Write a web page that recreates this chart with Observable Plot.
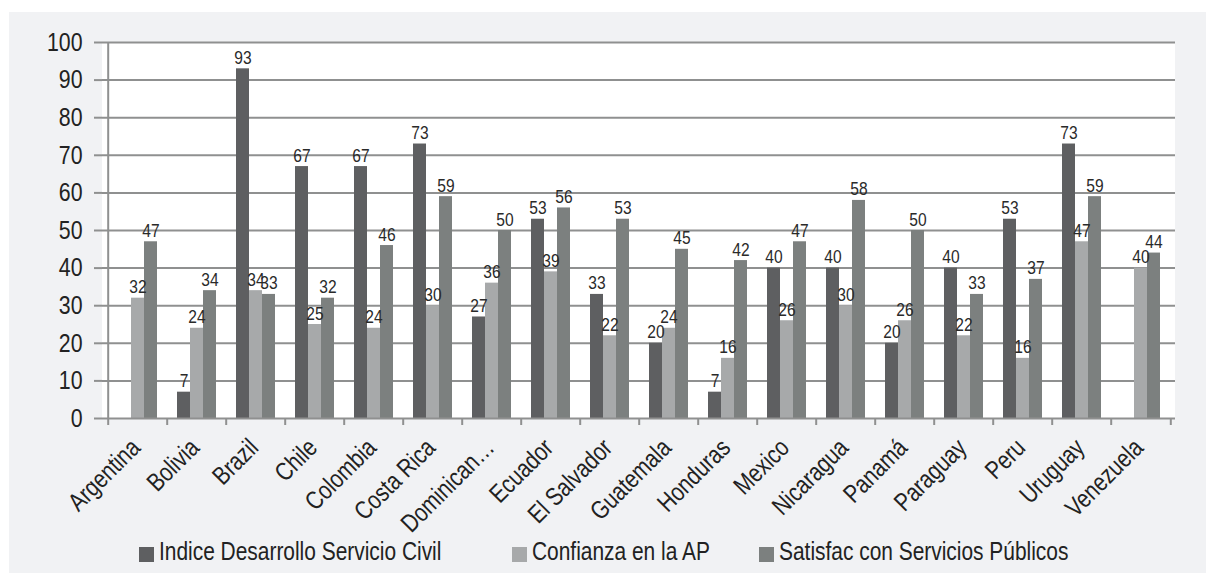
<!DOCTYPE html>
<html>
<head>
<meta charset="utf-8">
<script src="https://cdn.jsdelivr.net/npm/d3@7"></script>
<script src="https://cdn.jsdelivr.net/npm/@observablehq/plot@0.6"></script>
<style>
  html, body { margin: 0; padding: 0; background: #ffffff; }
  body { width: 1206px; height: 573px; position: relative; overflow: hidden; }
  .panel {
    position: absolute; left: 9px; top: 12px; width: 1197px; height: 561px;
    background: #f1f2f4;
    font-family: "Liberation Sans", Arial, sans-serif;
    color: #222;
  }
  .panel svg { position: absolute; left: 0; top: 0; }
  .legend { position: absolute; left: 0; top: 526px; width: 100%; height: 28px; }
  .legend .item { position: absolute; top: 0; display: flex; align-items: flex-start; white-space: nowrap; font-size: 25.5px; line-height: 26px; }
  .legend .swatch { flex: none; width: 15px; height: 15px; margin-right: 5px; margin-top: 9px; }
  .legend .label { display: inline-block; transform: scaleX(0.82); transform-origin: 0 50%; }
</style>
</head>
<body>
<div class="panel" id="panel"></div>
<script>
// Countries on the x axis
const countries = [
  "Argentina", "Bolivia", "Brazil", "Chile", "Colombia", "Costa Rica",
  "Dominican…", "Ecuador", "El Salvador", "Guatemala", "Honduras", "Mexico",
  "Nicaragua", "Panamá", "Paraguay", "Peru", "Uruguay", "Venezuela"
];

// Series values per country (null = no data)
const indiceDesarrollo = [null, 7, 93, 67, 67, 73, 27, 53, 33, 20, 7, 40, 40, 20, 40, 53, 73, null];
const confianzaAP      = [32, 24, 34, 25, 24, 30, 36, 39, 22, 24, 16, 26, 30, 26, 22, 16, 47, 40];
const satisfaccion     = [47, 34, 33, 32, 46, 59, 50, 56, 53, 45, 42, 47, 58, 50, 33, 37, 59, 44];

const seriesNames = [
  "Indice Desarrollo Servicio Civil",
  "Confianza en la AP",
  "Satisfac con Servicios Públicos"
];
const seriesColors = ["#5e5f61", "#a7a9aa", "#7c807f"];
const yTicks = [0, 10, 20, 30, 40, 50, 60, 70, 80, 90, 100];

// Long table built from the arrays above
const seriesValues = [indiceDesarrollo, confianzaAP, satisfaccion];
const rows = [];
countries.forEach((country, i) => {
  seriesValues.forEach((vals, k) => {
    if (vals[i] != null) rows.push({country, serie: seriesNames[k], k, value: vals[i]});
  });
});

// Layout
const width = 1197, height = 540;
const marginLeft = 93, marginRight = 31, marginTop = 30, marginBottom = 134;
const barW = 13;
const step = (width - marginLeft - marginRight) / countries.length;
const pad = 1 - (3 * barW) / step;
const grid = "#8f9090";

const marks = [
  // horizontal gridlines
  Plot.ruleY(yTicks.slice(1), {stroke: grid, strokeWidth: 2}),
  // bars: each country band split in three equal slices
  ...seriesNames.map((name, k) =>
    Plot.barY(rows.filter(d => d.k === k), {
      x: "country", y: "value", fill: seriesColors[k],
      insetLeft: k * barW, insetRight: (2 - k) * barW
    })
  ),
  // value labels above bars
  ...seriesNames.map((name, k) =>
    Plot.text(rows.filter(d => d.k === k), {
      x: "country", y: "value", text: d => String(d.value),
      dx: (k - 1) * barW, dy: -5, lineAnchor: "bottom",
      fontSize: 19, fill: "#2a2a2a"
    })
  ),
  // axis lines
  Plot.ruleY([0], {stroke: grid, strokeWidth: 2}),
  Plot.ruleX([countries[0]], {dx: -step / 2, stroke: grid, strokeWidth: 2}),
  // y axis
  Plot.axisY({ticks: yTicks, label: null, tickSize: 8, tickPadding: 12, fontSize: 26, stroke: grid, strokeWidth: 2, fill: "#222"}),
  // category boundary ticks
  Plot.axisX({label: null, tickSize: 7, tickFormat: () => "", dx: -step / 2, stroke: grid, strokeWidth: 2}),
  Plot.axisX({label: null, ticks: [countries[countries.length - 1]], tickSize: 7, tickFormat: () => "", dx: step / 2, stroke: grid, strokeWidth: 2}),
  // category labels
  Plot.axisX({label: null, tickSize: 0, tickRotate: -45, fontSize: 25.5, tickPadding: 25, dx: -2, fill: "#222"})
];

const chart = Plot.plot({
  width, height, marginLeft, marginRight, marginTop, marginBottom,
  style: {background: "transparent", fontFamily: "\"Liberation Sans\", Arial, sans-serif"},
  x: {domain: countries, paddingInner: pad, paddingOuter: pad / 2, align: 0.5, axis: null},
  y: {domain: [0, 100], axis: null},
  marks
});

const svg = d3.select(chart);
// condensed lettering: narrow each text along its own direction
svg.selectAll("text").each(function () {
  const t = d3.select(this);
  const tr = t.attr("transform") || "";
  t.attr("transform", (tr + " scale(0.82,1)").trim());
});

// inner plotting area background
svg.insert("rect", ":first-child")
  .attr("x", marginLeft).attr("y", marginTop)
  .attr("width", width - marginLeft - marginRight)
  .attr("height", height - marginTop - marginBottom)
  .attr("fill", "#ffffff");

const panel = document.getElementById("panel");
panel.appendChild(chart);

// legend below the chart
const legendLeft = [130, 503, 750];
const legend = document.createElement("div");
legend.className = "legend";
seriesNames.forEach((name, k) => {
  const item = document.createElement("div");
  item.className = "item";
  item.style.left = legendLeft[k] + "px";
  const sw = document.createElement("span");
  sw.className = "swatch";
  sw.style.background = seriesColors[k];
  const label = document.createElement("span");
  label.className = "label";
  label.textContent = name;
  item.appendChild(sw);
  item.appendChild(label);
  legend.appendChild(item);
});
panel.appendChild(legend);
</script>
</body>
</html>
